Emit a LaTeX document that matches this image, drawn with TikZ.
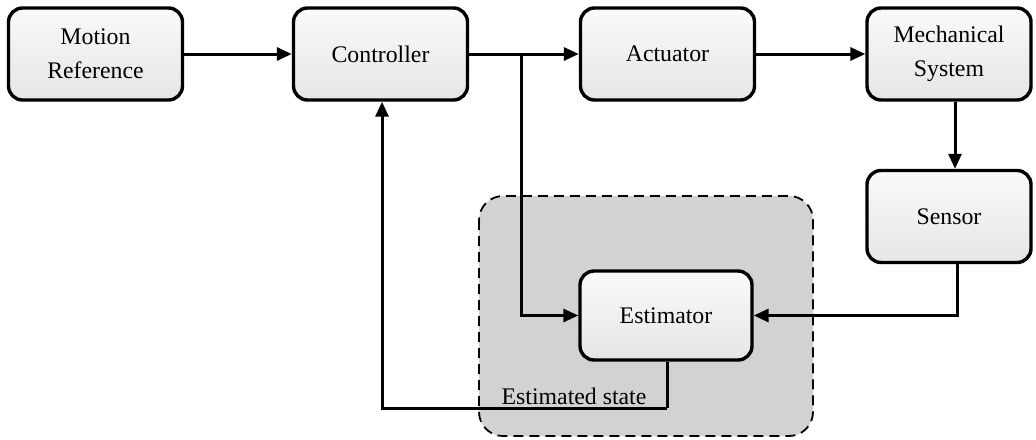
\documentclass[tikz,border=0pt]{standalone}
\usepackage{fontspec}
\setmainfont{Liberation Serif}
\usetikzlibrary{arrows.meta}
\begin{document}
\begin{tikzpicture}[x=0.5pt,y=-0.5pt,
  block/.style={draw=black, line width=1.7pt, rounded corners=7pt,
    top color=gray!4, bottom color=gray!20, minimum width=87pt, minimum height=46pt,
    align=center, inner sep=0pt, font=\fontsize{11.9}{17}\selectfont},
  link/.style={line width=1.5pt, -{Triangle[length=7.5pt,width=6.5pt]}},
  plain/.style={line width=1.5pt}
]
\useasboundingbox (0,0) rectangle (1036,439);
% estimator group background
\draw[dashed, dash pattern=on 5pt off 3pt, line width=0.9pt, fill=gray!35, rounded corners=12pt]
  (479,196) rectangle (813,436);

\node[block] (ref) at (95.5,54) {Motion\\Reference};
\node[block] (ctrl) at (380.5,54) {Controller};
\node[block] (act) at (667.5,54) {Actuator};
\node[block, minimum width=82pt] (mech) at (949,54) {Mechanical\\System};
\node[block, minimum width=82pt] (sens) at (949,216.5) {Sensor};
\node[block, minimum width=86pt, minimum height=44.5pt] (est) at (666,315.5) {Estimator};

\coordinate (split) at (521,54);
\coordinate (retn) at (667,408);

\draw[link] (ref) -- (ctrl);
\draw[link] (ctrl) -- (act);
\draw[link] (act) -- (mech);
\draw[link] (mech.south -| 955,0) -- (sens.north -| 955,0);
\draw[link] (split) |- (est.west);
\draw[link] (sens.south -| 957,0) |- (est.east);
\draw[plain] (est.south -| retn) -- (retn);
\draw[link] (retn) -| (ctrl.south -| 382,0);
\node[font=\fontsize{11.9}{14}\selectfont, anchor=base] (lbl) at (574,404) {Estimated state};
\end{tikzpicture}
\end{document}
